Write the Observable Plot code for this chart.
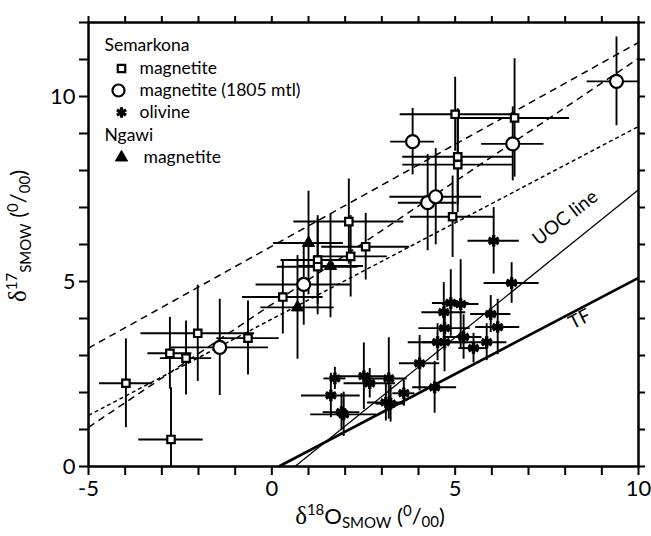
<!DOCTYPE html>
<html>
<head>
<meta charset="utf-8">
<script src="https://cdn.jsdelivr.net/npm/d3@7"></script>
<script src="https://cdn.jsdelivr.net/npm/@observablehq/plot@0.6"></script>
<style>
  html, body { margin: 0; padding: 0; background: white; }
</style>
</head>
<body>
<div id="chart"></div>
<script>
// [x = δ18O, y = δ17O, x error, y error]
const semarkonaMagnetite = [
  [-3.98, 2.25, 0.72, 1.2],
  [-2.78, 3.06, 0.6, 0.97],
  [-2.75, 0.73, 0.88, 1.4],
  [-2.34, 2.93, 0.7, 1.0],
  [-2.02, 3.6, 1.55, 1.3],
  [-0.65, 3.47, 0.85, 1.0],
  [0.3, 4.58, 1.1, 1.0],
  [1.25, 5.58, 1.0, 1.2],
  [1.25, 5.4, 1.1, 1.3],
  [2.1, 6.62, 1.5, 1.15],
  [2.15, 5.68, 1.0, 1.1],
  [2.56, 5.94, 1.2, 0.9],
  [4.93, 6.75, 1.15, 1.1],
  [5.07, 8.16, 1.5, 1.3],
  [5.07, 8.37, 1.5, 1.3],
  [5.0, 9.52, 1.5, 1.0],
  [6.62, 9.42, 1.5, 1.6]
];
const semarkonaMagnetite1805 = [
  [-1.42, 3.22, 1.33, 1.3],
  [0.87, 4.92, 1.3, 1.1],
  [3.84, 8.78, 0.6, 0.9],
  [4.25, 7.13, 0.8, 1.3],
  [4.47, 7.29, 1.25, 1.3],
  [6.57, 8.72, 0.85, 1.0],
  [9.4, 10.41, 0.8, 1.2]
];
const semarkonaOlivine = [
  [6.54, 4.96, 0.75, 0.55],
  [6.05, 6.1, 0.7, 0.9],
  [4.88, 4.42, 0.5, 0.9],
  [5.15, 4.39, 0.5, 1.2],
  [4.69, 4.17, 0.6, 0.8],
  [5.97, 4.12, 0.55, 0.5],
  [6.16, 3.77, 0.6, 0.75],
  [4.71, 3.74, 0.7, 0.6],
  [4.52, 3.36, 0.8, 0.5],
  [4.71, 3.36, 0.6, 0.8],
  [5.23, 3.5, 0.5, 0.6],
  [5.86, 3.36, 0.55, 0.5],
  [5.5, 3.2, 0.4, 0.4],
  [4.03, 2.79, 0.55, 0.75],
  [4.44, 2.14, 0.6, 0.7],
  [1.72, 2.38, 0.3, 0.3],
  [1.61, 1.92, 0.8, 0.6],
  [1.96, 1.41, 0.9, 0.6],
  [1.9, 1.47, 0.5, 0.5],
  [2.51, 2.44, 0.77, 0.9],
  [2.67, 2.25, 0.7, 0.4],
  [3.19, 2.38, 0.5, 1.1],
  [3.11, 1.73, 0.5, 0.5],
  [3.24, 1.7, 0.4, 0.5],
  [3.6, 1.98, 0.3, 0.35]
];
const ngawiMagnetite = [
  [0.7, 4.3, 1.0, 1.4],
  [1.0, 6.04, 0.95, 1.4],
  [1.6, 5.42, 0.9, 1.4]
];

// reference lines: [x1, y1, x2, y2]
const tfLine = [0.19, 0, 10, 5.1];
const uocLine = [0.63, 0, 10, 7.48];
const dashedLines = [
  [-5, 3.2, 10, 11.46],
  [-5, 1.06, 10, 11.03]
];
const shortDashedLine = [-5, 1.38, 10, 9.19];

const lineLabels = [
  {text: "UOC line", x: 8.0, y: 6.72, angle: -38},
  {text: "TF", x: 8.4, y: 3.98, angle: -27}
];

const xTicks = d3.range(-5, 11, 1);
const yTicks = d3.range(0, 13, 1);
const labelledTicks = [-5, 0, 5, 10];

const legendItems = [
  {kind: "group", text: "Semarkona"},
  {kind: "square", text: "magnetite"},
  {kind: "circle", text: "magnetite (1805 mtl)"},
  {kind: "asterisk", text: "olivine"},
  {kind: "group", text: "Ngawi"},
  {kind: "triangle", text: "magnetite"}
];

const FONT = "Lato, 'Open Sans', sans-serif";

function seg(a) { return [{x1: a[0], y1: a[1], x2: a[2], y2: a[3]}]; }
function errBars(data) {
  return [
    Plot.ruleX(data, {x: d => d[0], y1: d => d[1] - d[3], y2: d => d[1] + d[3], stroke: "black", strokeWidth: 1.9, clip: true}),
    Plot.ruleY(data, {y: d => d[1], x1: d => d[0] - d[2], x2: d => d[0] + d[2], stroke: "black", strokeWidth: 1.9, clip: true})
  ];
}

// legend layout (offsets from the frame's top-left)
const legendRows = [23, 46, 68, 90, 113, 135];
const legendMarks = [];
legendItems.forEach((it, i) => {
  const dy = legendRows[i];
  if (it.kind === "group") {
    legendMarks.push(Plot.text([it.text], {frameAnchor: "top-left", dx: 16, dy, textAnchor: "start", lineAnchor: "middle", fontSize: 17.5, fill: "black"}));
  } else {
    const sym = {
      square: {symbol: "square", r: 4.2, fill: "white", stroke: "black", strokeWidth: 2.2},
      circle: {symbol: "circle", r: 6, fill: "white", stroke: "black", strokeWidth: 2.2},
      asterisk: {symbol: "asterisk", r: 5, stroke: "black", strokeWidth: 3.2},
      triangle: {symbol: "triangle", r: 4.5, fill: "black", stroke: "black", strokeWidth: 1}
    }[it.kind];
    const tx = it.kind === "triangle" ? 55 : 51;
    legendMarks.push(Plot.dot([0], {frameAnchor: "top-left", dx: it.kind === "circle" ? 30 : 33, dy, ...sym}));
    legendMarks.push(Plot.text([it.text], {frameAnchor: "top-left", dx: tx, dy, textAnchor: "start", lineAnchor: "middle", fontSize: 17.5, fill: "black"}));
  }
});

const svg = Plot.plot({
  width: 651,
  height: 536,
  marginLeft: 88,
  marginRight: 13,
  marginTop: 22,
  marginBottom: 70,
  style: {fontFamily: FONT, color: "black", background: "white", overflow: "visible"},
  x: {domain: [-5, 10]},
  y: {domain: [0, 12]},
  marks: [
    // reference lines
    Plot.link(seg(tfLine), {x1: "x1", y1: "y1", x2: "x2", y2: "y2", stroke: "black", strokeWidth: 2.6}),
    Plot.link(seg(uocLine), {x1: "x1", y1: "y1", x2: "x2", y2: "y2", stroke: "black", strokeWidth: 1.3}),
    Plot.link(dashedLines.map(a => ({x1: a[0], y1: a[1], x2: a[2], y2: a[3]})), {x1: "x1", y1: "y1", x2: "x2", y2: "y2", stroke: "black", strokeWidth: 1.5, strokeDasharray: "7,5"}),
    Plot.link(seg(shortDashedLine), {x1: "x1", y1: "y1", x2: "x2", y2: "y2", stroke: "black", strokeWidth: 1.5, strokeDasharray: "4,3"}),
    Plot.text(lineLabels, {x: "x", y: "y", text: "text", rotate: "angle", fontSize: 19, fill: "black"}),
    // error bars
    ...errBars(semarkonaMagnetite),
    ...errBars(semarkonaMagnetite1805),
    ...errBars(semarkonaOlivine),
    ...errBars(ngawiMagnetite),
    // markers
    Plot.dot(semarkonaOlivine, {x: d => d[0], y: d => d[1], symbol: "asterisk", r: 5.5, stroke: "black", strokeWidth: 3.4}),
    Plot.dot(semarkonaMagnetite, {x: d => d[0], y: d => d[1], symbol: "square", r: 4.2, fill: "white", stroke: "black", strokeWidth: 2.2}),
    Plot.dot(semarkonaMagnetite1805, {x: d => d[0], y: d => d[1], symbol: "circle", r: 6.5, fill: "white", stroke: "black", strokeWidth: 2.2}),
    Plot.dot(ngawiMagnetite, {x: d => d[0], y: d => d[1], symbol: "triangle", r: 4.5, fill: "black", stroke: "black", strokeWidth: 1}),
    // legend
    ...legendMarks,
    // axes
    Plot.axisX({anchor: "bottom", ticks: xTicks, tickSize: 9, tickPadding: 5, strokeWidth: 2, fontSize: 22, tickFormat: d => labelledTicks.includes(d) ? String(d) : "", label: null}),
    Plot.axisX({anchor: "top", ticks: xTicks, tickSize: 7, strokeWidth: 2, tickFormat: () => "", label: null}),
    Plot.axisY({anchor: "left", ticks: yTicks, tickSize: 9, tickPadding: 4, strokeWidth: 2, fontSize: 22, tickFormat: d => d % 5 === 0 ? String(d) : "", label: null}),
    Plot.axisY({anchor: "right", ticks: yTicks, tickSize: 6, strokeWidth: 2, tickFormat: () => "", label: null}),
    Plot.frame({stroke: "black", strokeWidth: 2.5})
  ]
});

// rich axis titles
const s = d3.select(svg);
const xt = s.append("text")
  .attr("x", 370).attr("y", 524)
  .attr("text-anchor", "middle")
  .attr("font-family", FONT)
  .attr("font-size", 22)
  .attr("fill", "black");
xt.append("tspan").attr("font-family", "'Liberation Serif', 'DejaVu Serif', serif").attr("font-size", 25).text("δ");
xt.append("tspan").attr("font-size", 15).attr("dy", -9).text("18");
xt.append("tspan").attr("dy", 9).text("O");
xt.append("tspan").attr("font-size", 15).attr("dy", 4).text("SMOW");
xt.append("tspan").attr("dy", -4).text(" (");
xt.append("tspan").attr("font-size", 15).attr("dy", -8).text("0");
xt.append("tspan").attr("dy", 8).text("/");
xt.append("tspan").attr("font-size", 15).attr("dy", 3).text("00");
xt.append("tspan").attr("dy", -3).text(")");

const yt = s.append("text")
  .attr("transform", "translate(26,236) rotate(-90)")
  .attr("text-anchor", "middle")
  .attr("font-family", FONT)
  .attr("font-size", 22)
  .attr("fill", "black");
yt.append("tspan").attr("font-family", "'Liberation Serif', 'DejaVu Serif', serif").attr("font-size", 25).text("δ");
yt.append("tspan").attr("font-size", 15).attr("dy", -9).text("17");
yt.append("tspan").attr("font-size", 15).attr("dy", 14).text("SMOW");
yt.append("tspan").attr("dy", -5).text(" (");
yt.append("tspan").attr("font-size", 15).attr("dy", -8).text("0");
yt.append("tspan").attr("dy", 8).text("/");
yt.append("tspan").attr("font-size", 15).attr("dy", 4).text("00");
yt.append("tspan").attr("dy", -4).text(")");

document.getElementById("chart").appendChild(svg);
</script>
</body>
</html>
